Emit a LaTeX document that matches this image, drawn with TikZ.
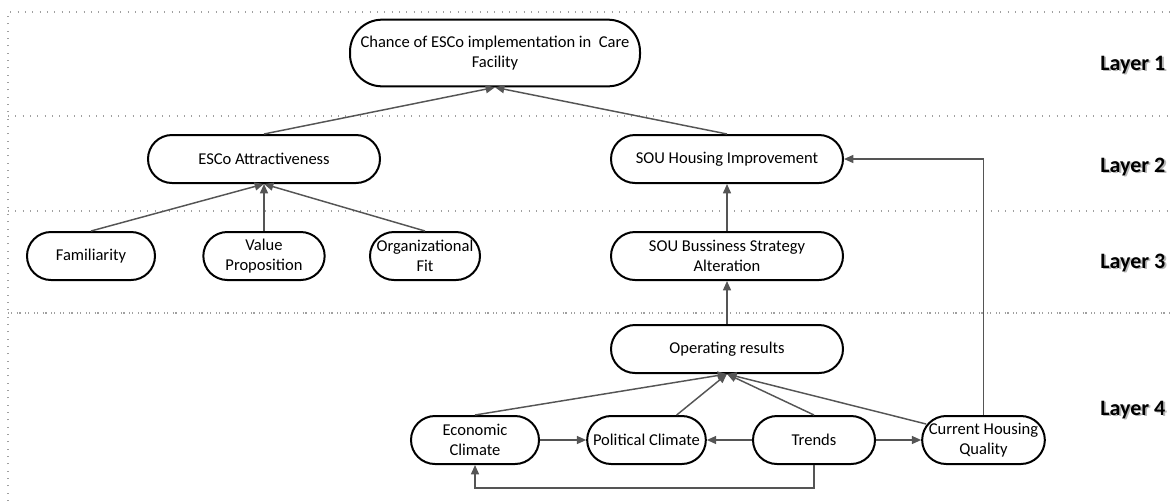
\documentclass[tikz,border=0pt]{standalone}
\usepackage{fontspec}
\setmainfont{Carlito}
\usepackage{tikz}
\usetikzlibrary{arrows.meta,positioning,calc}
\usepackage{xcolor}
\definecolor{linkgray}{HTML}{555555}
\definecolor{sepgray}{HTML}{A0A0A0}
\newcommand{\layerlbl}[1]{\makebox[0pt][l]{\kern1.4pt\raisebox{-1.4pt}{\color{black!28}#1}}#1}

\begin{document}
\begin{tikzpicture}[x=0.75pt, y=-0.75pt, every node/.style={font=\fontsize{12.4}{15}\selectfont}]
\tikzset{box/.style={draw, line width=1.5pt, rounded corners=18pt, align=center, inner sep=0pt, minimum height=36pt}}
\tikzset{link/.style={draw=linkgray, line width=1.1pt, -{Triangle[length=7pt,width=6pt]}}}
\tikzset{sep/.style={draw=sepgray, line width=0.8pt, dash pattern=on 0.8pt off 4.7pt}}
\tikzset{layer/.style={anchor=base east, font=\fontsize{16.5}{18}\selectfont\bfseries}}
\useasboundingbox (0,0) rectangle (1171,501);
% layer separators
\draw[sep] (8,501) -- (8,12) -- (1171,12);
\draw[sep] (8,116) -- (1171,116);
\draw[sep] (8,211) -- (1171,211);
\draw[sep, dash pattern=on 0.8pt off 1.3pt on 0.8pt off 3.6pt] (8,313) -- (1171,313);
% layer 1
\node[box, minimum width=217.5pt, minimum height=50pt, rounded corners=24pt] (chance) at (495,53) {Chance of ESCo implementation in\ \ Care\\Facility};
% layer 2
\node[box, minimum width=174pt] (esco) at (264,159) {ESCo Attractiveness};
\node[box, minimum width=174pt] (souh) at (727,159) {SOU Housing Improvement};
% layer 3
\node[box, minimum width=96pt] (fam) at (91,256) {Familiarity};
\node[box, minimum width=91pt] (val) at (264,256) {Value\\Proposition};
\node[box, minimum width=82.5pt] (org) at (425,256) {Organizational\\Fit};
\node[box, minimum width=174pt] (soub) at (727,256) {SOU Bussiness Strategy\\Alteration};
% layer 4
\node[box, minimum width=174pt] (op) at (727,349) {Operating results};
\node[box, minimum width=96pt] (econ) at (475,440) {Economic\\Climate};
\node[box, minimum width=89pt] (pol) at (646.5,440) {Political Climate};
\node[box, minimum width=91.5pt] (trends) at (814,440) {Trends};
\node[box, minimum width=92pt] (chq) at (983.5,440) {Current Housing\\Quality};
% layer labels
\node[layer] (l1) at (1170,70) {\layerlbl{Layer 1}};
\node[layer] (l2) at (1170,172) {\layerlbl{Layer 2}};
\node[layer] (l3) at (1170,268) {\layerlbl{Layer 3}};
\node[layer] (l4) at (1170,415) {\layerlbl{Layer 4}};
% connectors
\draw[link] (esco.north) -- (chance.south);
\draw[link] (souh.north) -- (chance.south);
\draw[link] (fam.north) -- (esco.south);
\draw[link] (val.north) -- (esco.south);
\draw[link] (org.north) -- (esco.south);
\draw[link] (soub.north) -- (souh.south);
\draw[link] (op.north) -- (soub.south);
\draw[link] (econ.north) -- (op.south);
\draw[link] ($(pol.north)!0.5!(pol.north east)$) -- (op.south);
\draw[link] (trends.north) -- (op.south);
\draw[link] ($(chq.north west)+(5,9)$) -- (op.south);
\draw[link] (econ.east) -- (pol.west);
\draw[link] (trends.west) -- (pol.east);
\draw[link] (trends.east) -- (chq.west);
\draw[link] (trends.south) -- ++(0,23) -| (econ.south);
\draw[link] (chq.north) |- (souh.east);
\end{tikzpicture}
\end{document}
